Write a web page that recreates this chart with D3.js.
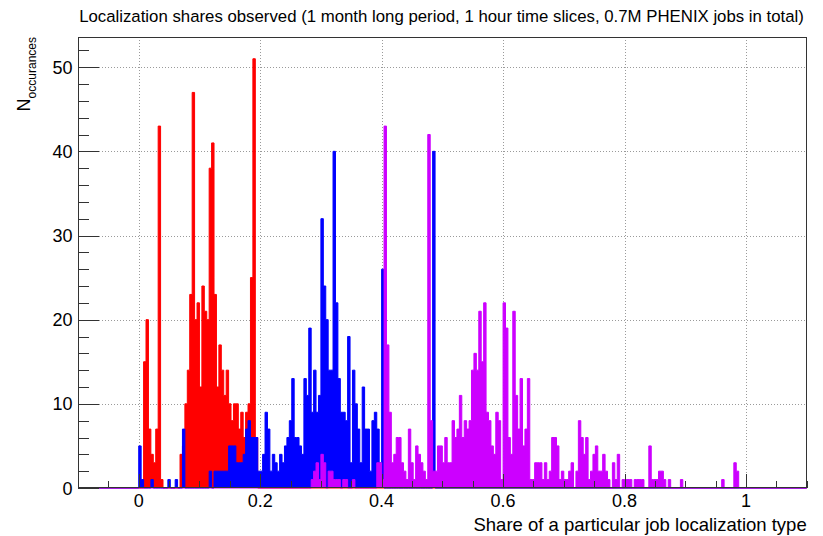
<!DOCTYPE html>
<html>
<head>
<meta charset="utf-8">
<script src="https://cdn.jsdelivr.net/npm/d3@7"></script>
<style>
  body { margin: 0; background: #fff; }
  text { font-family: "Liberation Sans", Arial, sans-serif; }
</style>
</head>
<body>
<div id="chart"></div>
<script>
const width = 823;
const height = 536;

// bins of 0.004, counts start at the given lower edge
const binWidth = 0.004;
const xMin = -0.1, xMax = 1.1;

const redStart = 0.0;
const redCounts = [0, 0, 15, 20, 7, 4, 3, 7, 43, 1,
  0, 0, 0, 0, 0, 0, 0, 4, 5, 10,
  14, 23, 47, 20, 22, 12, 24, 21, 20, 38,
  41, 23, 12, 17, 14, 11, 14, 10, 8, 10,
  10, 7, 9, 6, 9, 10, 25, 51, 6];

const blueStart = 0.0;
const blueCounts = [5, 1, 0, 0, 0, 1, 0, 0, 0, 0,
  0, 0, 1, 0, 0, 1, 0, 0, 7, 0,
  0, 0, 0, 0, 0, 0, 0, 0, 0, 2,
  0, 2, 2, 2, 2, 2, 2, 5, 5, 5,
  3, 3, 3, 4, 7, 8, 6, 6, 6, 2,
  2, 4, 9, 7, 2, 4, 3, 2, 4, 3,
  5, 6, 8, 13, 6, 6, 5, 4, 13, 11,
  19, 9, 14, 9, 11, 32, 24, 20, 14, 14,
  40, 22, 13, 9, 9, 8, 18, 3, 14, 10,
  7, 3, 12, 7, 7, 2, 8, 9, 7, 3,
  26, 0, 0, 0, 0, 0, 0, 0, 0, 0,
  0, 0, 0, 0, 0, 0, 0, 0, 0, 0,
  0, 40];

const magentaStart = 0.28;
const magentaCounts = [0, 1, 2, 3, 1, 4, 3, 0, 2, 2,
  1, 1, 1, 0, 1, 1, 0, 0, 1, 0,
  0, 0, 0, 0, 0, 0, 0, 0, 3, 3,
  1, 43, 17, 9, 3, 4, 6, 6, 3, 2,
  1, 7, 3, 1, 5, 4, 3, 2, 1, 42,
  8, 2, 2, 5, 5, 3, 6, 3, 3, 8,
  6, 7, 11, 6, 8, 7, 8, 14, 16, 14,
  21, 15, 22, 9, 8, 5, 4, 9, 8, 1,
  22, 19, 6, 4, 21, 11, 7, 13, 5, 7,
  13, 1, 1, 3, 3, 3, 1, 3, 1, 2,
  6, 6, 5, 1, 2, 1, 1, 2, 3, 0,
  2, 8, 6, 4, 6, 1, 2, 4, 5, 2,
  2, 4, 2, 1, 0, 3, 1, 4, 0, 1,
  1, 1, 1, 0, 1, 1, 1, 1, 0, 0,
  5, 1, 1, 1, 2, 2, 1, 0, 1, 0,
  0, 0, 0, 1, 0, 0, 0, 0, 0, 0,
  0, 0, 0, 0, 0, 0, 0, 0, 0, 0,
  1, 0, 0, 0, 0, 3, 2];

const xMajorTicks = [0, 0.2, 0.4, 0.6, 0.8, 1];
const yMajorTicks = [0, 10, 20, 30, 40, 50];

const titleText = "Localization shares observed (1 month long period, 1 hour time slices, 0.7M PHENIX jobs in total)";
const xLabel = "Share of a particular job localization type";

const x = d3.scaleLinear().domain([xMin, xMax]).range([78, 806.7]);
const y = d3.scaleLinear().domain([0, 53.55]).range([488, 37.3]);

const svg = d3.create("svg")
    .attr("width", width)
    .attr("height", height)
    .attr("viewBox", `0 0 ${width} ${height}`)
    .style("display", "block")
    .style("background", "#fff");

// grid (dotted)
const grid = svg.append("g")
    .attr("stroke", "#9a9a9a")
    .attr("stroke-width", 1)
    .attr("stroke-dasharray", "1,2");
grid.selectAll("line.gx")
  .data(xMajorTicks)
  .join("line")
    .attr("x1", d => Math.round(x(d)) + 0.5)
    .attr("x2", d => Math.round(x(d)) + 0.5)
    .attr("y1", y.range()[0])
    .attr("y2", y.range()[1]);
grid.selectAll("line.gy")
  .data(yMajorTicks.filter(d => d > 0))
  .join("line")
    .attr("x1", x.range()[0])
    .attr("x2", x.range()[1])
    .attr("y1", d => Math.round(y(d)) + 0.5)
    .attr("y2", d => Math.round(y(d)) + 0.5);

// histograms as step areas over the full range
function stepPoints(start, counts) {
  const k0 = Math.round(start / binWidth);
  const pts = [[xMin, 0], [k0 * binWidth, 0]];
  counts.forEach((n, i) => {
    const a = (k0 + i) * binWidth, b = (k0 + i + 1) * binWidth;
    pts.push([a, n], [b, n]);
  });
  pts.push([(k0 + counts.length) * binWidth, 0], [xMax, 0]);
  return pts;
}

const area = d3.area()
    .x(d => x(d[0]))
    .y0(y(0))
    .y1(d => y(d[1]));
const line = d3.line()
    .x(d => x(d[0]))
    .y(d => y(d[1]));

const series = [
  {name: "red", color: "#ff0000", pts: stepPoints(redStart, redCounts)},
  {name: "blue", color: "#0000ff", pts: stepPoints(blueStart, blueCounts)},
  {name: "magenta", color: "#cc00ff", pts: stepPoints(magentaStart, magentaCounts)}
];

const hist = svg.append("g");
series.forEach(s => {
  hist.append("path")
      .attr("d", area(s.pts))
      .attr("fill", s.color);
  hist.append("path")
      .attr("d", line(s.pts))
      .attr("fill", "none")
      .attr("stroke", s.color)
      .attr("stroke-width", 1);
});

// frame
svg.append("rect")
    .attr("x", 78.5)
    .attr("y", 37.5)
    .attr("width", 728)
    .attr("height", 450)
    .attr("fill", "none")
    .attr("stroke", "#333")
    .attr("stroke-width", 1);

// ticks
const ticks = svg.append("g").attr("stroke", "#333").attr("stroke-width", 1);
const xMinor = d3.range(-2, 23).map(i => i * 0.05);
ticks.selectAll("line.xt")
  .data(xMinor)
  .join("line")
    .attr("x1", d => Math.round(x(d)) + 0.5)
    .attr("x2", d => Math.round(x(d)) + 0.5)
    .attr("y1", 488)
    .attr("y2", d => Math.abs(d / 0.2 - Math.round(d / 0.2)) < 1e-6 ? 474 : 481);
const yMinor = d3.range(0, 27).map(i => i * 2);
ticks.selectAll("line.yt")
  .data(yMinor)
  .join("line")
    .attr("x1", 78)
    .attr("x2", d => d % 10 === 0 ? 99 : 89)
    .attr("y1", d => Math.round(y(d)) + 0.5)
    .attr("y2", d => Math.round(y(d)) + 0.5);

// tick labels
svg.append("g")
    .attr("font-size", 18)
    .attr("text-anchor", "middle")
    .attr("fill", "#000")
  .selectAll("text")
  .data(xMajorTicks)
  .join("text")
    .attr("x", d => x(d))
    .attr("y", 507)
    .text(d => d3.format("~g")(d));

svg.append("g")
    .attr("font-size", 18)
    .attr("text-anchor", "end")
    .attr("fill", "#000")
  .selectAll("text")
  .data(yMajorTicks)
  .join("text")
    .attr("x", 72.5)
    .attr("y", d => y(d) + 6.5)
    .text(d => d);

// title
svg.append("text")
    .attr("x", 441.5)
    .attr("y", 21.5)
    .attr("text-anchor", "middle")
    .attr("font-size", 16.8)
    .attr("fill", "#000")
    .text(titleText);

// axis titles
svg.append("text")
    .attr("x", 806.7)
    .attr("y", 531)
    .attr("text-anchor", "end")
    .attr("font-size", 18.5)
    .attr("fill", "#000")
    .text(xLabel);

const yl = svg.append("text")
    .attr("transform", "translate(30,37) rotate(-90)")
    .attr("text-anchor", "end")
    .attr("fill", "#000");
yl.append("tspan").attr("font-size", 18).text("N");
yl.append("tspan").attr("font-size", 12).attr("dy", 5.5).text("occurances");

document.getElementById("chart").appendChild(svg.node());
</script>
</body>
</html>
